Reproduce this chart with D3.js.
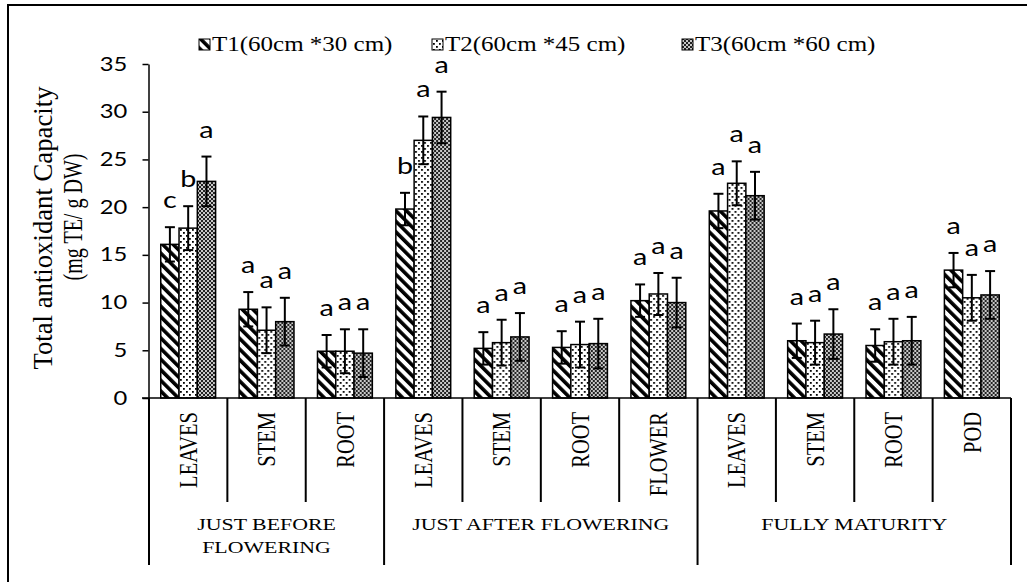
<!DOCTYPE html>
<html>
<head>
<meta charset="utf-8">
<script src="https://cdn.jsdelivr.net/npm/d3@7/dist/d3.min.js"></script>
<style>
  body { margin: 0; background: #fff; }
  svg { display: block; }
</style>
</head>
<body>
<div id="chart"></div>
<script>
// organs, in plotting order
const categories = ["LEAVES", "STEM", "ROOT", "LEAVES", "STEM", "ROOT", "FLOWER", "LEAVES", "STEM", "ROOT", "POD"];
// growth stages and how many organs each one holds
const stageNames = [["JUST BEFORE", "FLOWERING"], ["JUST AFTER FLOWERING"], ["FULLY MATURITY"]];
const stageSizes = [3, 4, 4];

const seriesNames = ["T1(60cm *30 cm)", "T2(60cm *45 cm)", "T3(60cm *60 cm)"];

const t1 = [16.1, 9.3, 4.9, 19.8, 5.2, 5.3, 10.2, 19.6, 6.0, 5.5, 13.4];
const t2 = [17.8, 7.1, 4.9, 27.0, 5.8, 5.6, 10.9, 22.5, 5.8, 5.9, 10.5];
const t3 = [22.7, 8.0, 4.7, 29.4, 6.4, 5.7, 10.0, 21.2, 6.7, 6.0, 10.8];

const t1Err = [1.8, 1.8, 1.7, 1.7, 1.7, 1.7, 1.7, 1.8, 1.8, 1.7, 1.8];
const t2Err = [2.3, 2.4, 2.3, 2.5, 2.4, 2.4, 2.2, 2.3, 2.3, 2.4, 2.4];
const t3Err = [2.6, 2.5, 2.5, 2.7, 2.5, 2.6, 2.6, 2.5, 2.6, 2.5, 2.5];

// significance letters
const t1Letters = ["c", "a", "a", "b", "a", "a", "a", "a", "a", "a", "a"];
const t2Letters = ["b", "a", "a", "a", "a", "a", "a", "a", "a", "a", "a"];
const t3Letters = ["a", "a", "a", "a", "a", "a", "a", "a", "a", "a", "a"];

const yTicks = [0, 5, 10, 15, 20, 25, 30, 35];

const w = 1027;
const h = 582;
const sx = 1.25; // the source picture is widened, so text is stretched sideways

const series = [
  { name: seriesNames[0], values: t1, err: t1Err, letters: t1Letters, fill: "url(#p1)" },
  { name: seriesNames[1], values: t2, err: t2Err, letters: t2Letters, fill: "url(#p2)" },
  { name: seriesNames[2], values: t3, err: t3Err, letters: t3Letters, fill: "url(#p3)" }
];

const svg = d3.select("#chart")
  .append("svg")
  .attr("width", w)
  .attr("height", h);

// hatch patterns
const defs = svg.append("defs");

const p1 = defs.append("pattern")
  .attr("id", "p1")
  .attr("patternUnits", "userSpaceOnUse")
  .attr("width", 7.5).attr("height", 7.5)
  .attr("patternTransform", "rotate(-45)");
p1.append("rect").attr("width", 7.5).attr("height", 7.5).attr("fill", "#fff");
p1.append("rect").attr("width", 3.6).attr("height", 7.5).attr("fill", "#000");

const p2 = defs.append("pattern")
  .attr("id", "p2")
  .attr("patternUnits", "userSpaceOnUse")
  .attr("width", 6).attr("height", 6);
p2.append("rect").attr("width", 6).attr("height", 6).attr("fill", "#fff");
p2.append("rect").attr("x", 1).attr("y", 1).attr("width", 1.8).attr("height", 1.8).attr("fill", "#000");
p2.append("rect").attr("x", 4).attr("y", 4).attr("width", 1.8).attr("height", 1.8).attr("fill", "#000");

const p3 = defs.append("pattern")
  .attr("id", "p3")
  .attr("patternUnits", "userSpaceOnUse")
  .attr("width", 4).attr("height", 4);
p3.append("rect").attr("width", 4).attr("height", 4).attr("fill", "#c8c8c8");
p3.append("rect").attr("width", 2).attr("height", 2).attr("fill", "#222");
p3.append("rect").attr("x", 2).attr("y", 2).attr("width", 2).attr("height", 2).attr("fill", "#222");

// frame of the figure
svg.append("rect")
  .attr("x", 8).attr("y", 5)
  .attr("width", w + 20).attr("height", h + 20)
  .attr("fill", "none")
  .attr("stroke", "#000")
  .attr("stroke-width", 2);

// scales
const xScale = d3.scaleBand()
  .domain(d3.range(categories.length))
  .range([149, 1011]);

const xSub = d3.scaleBand()
  .domain(d3.range(series.length))
  .range([xScale.bandwidth() * 0.15, xScale.bandwidth() * 0.85]);

const yScale = d3.scaleLinear()
  .domain([0, 35])
  .range([398, 64]);

// y axis
const yAxis = d3.axisLeft(yScale)
  .tickValues(yTicks)
  .tickSize(6)
  .tickSizeOuter(0)
  .tickPadding(11);

const gy = svg.append("g")
  .attr("transform", "translate(148.5,0)")
  .call(yAxis);
gy.select(".domain").attr("stroke-width", 1.5);
gy.selectAll(".tick line").attr("stroke-width", 1.5);
gy.selectAll(".tick text")
  .attr("font-family", "Lato, sans-serif")
  .attr("font-size", 19)
  .attr("fill", "#000")
  .attr("transform", `scale(${sx},1)`);

svg.append("text")
  .attr("transform", `translate(52,228) scale(${sx},1) rotate(-90)`)
  .attr("text-anchor", "middle")
  .attr("font-family", "Liberation Serif, serif")
  .attr("font-size", 21)
  .attr("textLength", 283)
  .attr("lengthAdjust", "spacingAndGlyphs")
  .text("Total antioxidant Capacity");

svg.append("text")
  .attr("transform", `translate(82,217) scale(${sx},1) rotate(-90)`)
  .attr("text-anchor", "middle")
  .attr("font-family", "Liberation Serif, serif")
  .attr("font-size", 21)
  .attr("textLength", 127)
  .attr("lengthAdjust", "spacingAndGlyphs")
  .text("(mg TE/ g DW)");

// bars
const groups = svg.selectAll(".cat")
  .data(categories)
  .enter()
  .append("g")
  .attr("class", "cat")
  .attr("transform", (d, i) => `translate(${xScale(i)},0)`);

series.forEach((s, si) => {
  groups.append("rect")
    .attr("x", xSub(si))
    .attr("y", (d, i) => yScale(s.values[i]))
    .attr("width", xSub.bandwidth())
    .attr("height", (d, i) => yScale(0) - yScale(s.values[i]))
    .attr("fill", s.fill)
    .attr("stroke", "#000")
    .attr("stroke-width", 1.5);
});

// error bars and letters on top of the bars
series.forEach((s, si) => {
  const cx = xSub(si) + xSub.bandwidth() / 2;
  const eb = groups.append("g").attr("stroke", "#000").attr("stroke-width", 2);
  eb.append("line")
    .attr("x1", cx).attr("x2", cx)
    .attr("y1", (d, i) => yScale(s.values[i] + s.err[i]))
    .attr("y2", (d, i) => yScale(s.values[i] - s.err[i]));
  eb.append("line")
    .attr("x1", cx - 5).attr("x2", cx + 5)
    .attr("y1", (d, i) => yScale(s.values[i] + s.err[i]))
    .attr("y2", (d, i) => yScale(s.values[i] + s.err[i]));
  eb.append("line")
    .attr("x1", cx - 5).attr("x2", cx + 5)
    .attr("y1", (d, i) => yScale(s.values[i] - s.err[i]))
    .attr("y2", (d, i) => yScale(s.values[i] - s.err[i]));

  groups.append("text")
    .attr("transform", (d, i) => `translate(${cx},${yScale(s.values[i] + s.err[i]) - 19}) scale(${sx},1)`)
    .attr("text-anchor", "middle")
    .attr("font-family", "Lato, sans-serif")
    .attr("font-size", 23)
    .text((d, i) => s.letters[i]);
});

// x axis and category table below
svg.append("line")
  .attr("x1", 142).attr("x2", 1011)
  .attr("y1", 398).attr("y2", 398)
  .attr("stroke", "#000")
  .attr("stroke-width", 1.5);

const stageStarts = [0];
stageSizes.forEach(n => stageStarts.push(stageStarts[stageStarts.length - 1] + n));

d3.range(categories.length + 1).forEach(i => {
  const isStage = stageStarts.includes(i);
  const xx = i < categories.length ? xScale(i) : xScale.range()[1];
  svg.append("line")
    .attr("x1", xx).attr("x2", xx)
    .attr("y1", 398).attr("y2", isStage ? 565 : 502)
    .attr("stroke", "#000")
    .attr("stroke-width", 2);
});

groups.append("text")
  .attr("transform", (d, i) => `translate(${xScale.bandwidth() / 2},412) scale(${sx},1) rotate(-90)`)
  .attr("text-anchor", "end")
  .attr("dy", "0.34em")
  .attr("font-family", "Liberation Serif, serif")
  .attr("font-size", 20.5)
  .text(d => d);

stageNames.forEach((lines, gi) => {
  const a = xScale(stageStarts[gi]);
  const b = stageStarts[gi + 1] < categories.length ? xScale(stageStarts[gi + 1]) : xScale.range()[1];
  lines.forEach((ln, li) => {
    svg.append("text")
      .attr("transform", `translate(${(a + b) / 2},${530 + li * 23}) scale(${sx},1)`)
      .attr("text-anchor", "middle")
      .attr("font-family", "Liberation Serif, serif")
      .attr("font-size", 17.5)
      .text(ln);
  });
});

// legend
const legendX = [199, 432, 682];
series.forEach((s, si) => {
  svg.append("rect")
    .attr("x", legendX[si]).attr("y", 39)
    .attr("width", 11).attr("height", 11)
    .attr("fill", s.fill)
    .attr("stroke", "#000")
    .attr("stroke-width", 1);
  svg.append("text")
    .attr("transform", `translate(${legendX[si] + 13},51) scale(${sx},1)`)
    .attr("font-family", "Liberation Serif, serif")
    .attr("font-size", 20)
    .text(s.name);
});
</script>
</body>
</html>
